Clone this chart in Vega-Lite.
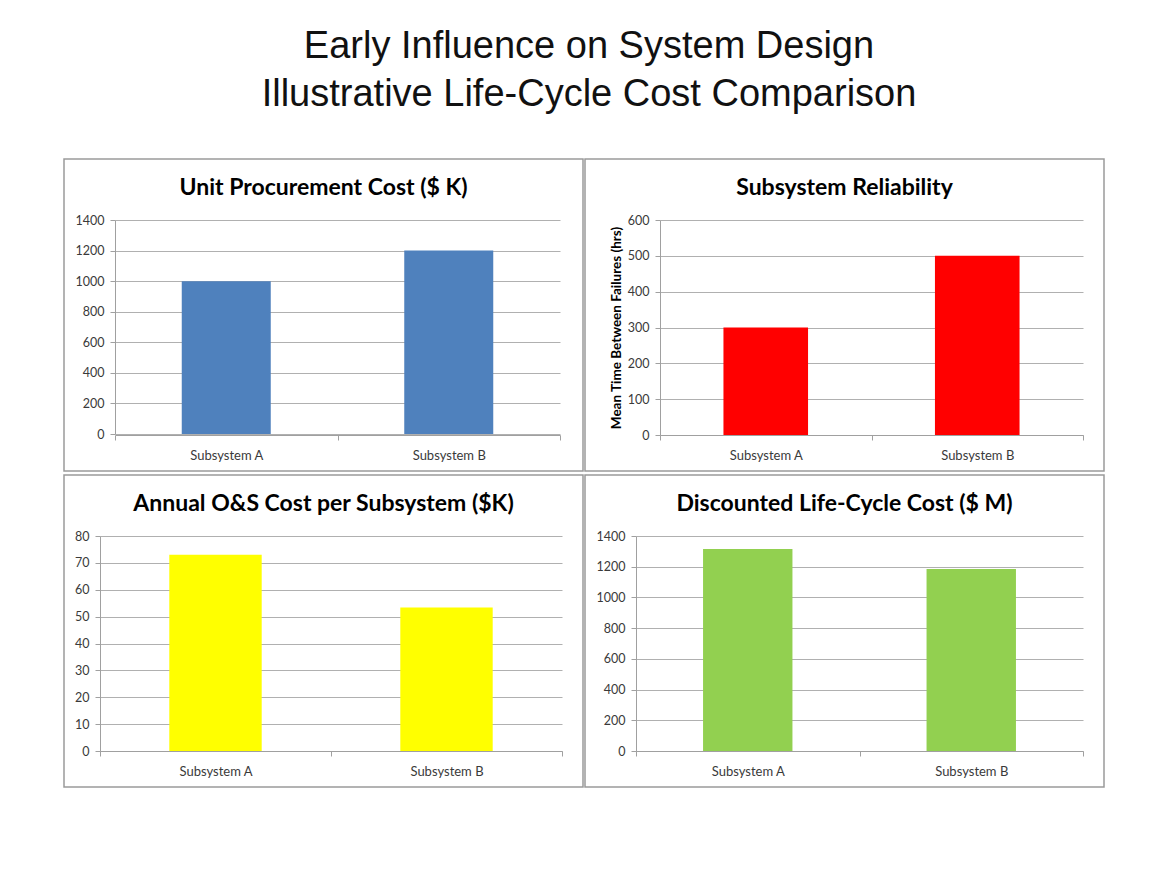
{
  "$schema": "https://vega.github.io/schema/vega-lite/v6.json",
  "background": "white",
  "padding": {"left": 63, "top": 28, "right": 0, "bottom": 0},
  "title": {
    "text": ["Early Influence on System Design", "Illustrative Life-Cycle Cost Comparison"],
    "font": "Liberation Sans",
    "fontSize": 38,
    "fontWeight": "normal",
    "lineHeight": 48,
    "anchor": "middle",
    "frame": "bounds",
    "offset": 44,
    "dx": 5,
    "color": "#111111"
  },
  "spacing": 2,
  "vconcat": [
    {
      "spacing": 0,
      "hconcat": [
        {
          "width": 519,
          "height": 312,
          "title": {"text": "Unit Procurement Cost ($ K)", "offset": -41},
          "data": {"values": [
            {"subsystem": "Subsystem A", "value": 1000},
            {"subsystem": "Subsystem B", "value": 1200}
          ]},
          "mark": {"type": "bar", "width": {"band": 0.4}, "color": "#4F81BD"},
          "encoding": {
            "x": {"field": "subsystem", "type": "nominal", "sort": null,
              "scale": {"range": [51, 496], "paddingInner": 0, "paddingOuter": 0},
              "axis": {"offset": -36, "title": null}},
            "y": {"field": "value", "type": "quantitative",
              "scale": {"domain": [0, 1400], "range": [275, 61], "nice": false},
              "axis": {"offset": -51, "title": null, "values": [0, 200, 400, 600, 800, 1000, 1200, 1400]}}
          }
        },
        {
          "width": 519,
          "height": 312,
          "title": {"text": "Subsystem Reliability", "offset": -41},
          "data": {"values": [
            {"subsystem": "Subsystem A", "value": 300},
            {"subsystem": "Subsystem B", "value": 500}
          ]},
          "mark": {"type": "bar", "width": {"band": 0.4}, "color": "#FF0000"},
          "encoding": {
            "x": {"field": "subsystem", "type": "nominal", "sort": null,
              "scale": {"range": [75, 498], "paddingInner": 0, "paddingOuter": 0},
              "axis": {"offset": -36, "title": null}},
            "y": {"field": "value", "type": "quantitative",
              "scale": {"domain": [0, 600], "range": [276, 61], "nice": false},
              "axis": {"offset": -75, "title": "Mean Time Between Failures (hrs)", "titleFontSize": 13.5, "titlePadding": 4, "values": [0, 100, 200, 300, 400, 500, 600]}}
          }
        }
      ]
    },
    {
      "spacing": 0,
      "hconcat": [
        {
          "width": 519,
          "height": 312,
          "title": {"text": "Annual O&S Cost per Subsystem ($K)", "offset": -41},
          "data": {"values": [
            {"subsystem": "Subsystem A", "value": 73},
            {"subsystem": "Subsystem B", "value": 53.4}
          ]},
          "mark": {"type": "bar", "width": {"band": 0.4}, "color": "#FFFF00"},
          "encoding": {
            "x": {"field": "subsystem", "type": "nominal", "sort": null,
              "scale": {"range": [36, 498], "paddingInner": 0, "paddingOuter": 0},
              "axis": {"offset": -36, "title": null}},
            "y": {"field": "value", "type": "quantitative",
              "scale": {"domain": [0, 80], "range": [276, 61], "nice": false},
              "axis": {"offset": -36, "title": null, "values": [0, 10, 20, 30, 40, 50, 60, 70, 80]}}
          }
        },
        {
          "width": 519,
          "height": 312,
          "title": {"text": "Discounted Life-Cycle Cost ($ M)", "offset": -41},
          "data": {"values": [
            {"subsystem": "Subsystem A", "value": 1315},
            {"subsystem": "Subsystem B", "value": 1185}
          ]},
          "mark": {"type": "bar", "width": {"band": 0.4}, "color": "#92D050"},
          "encoding": {
            "x": {"field": "subsystem", "type": "nominal", "sort": null,
              "scale": {"range": [51, 498], "paddingInner": 0, "paddingOuter": 0},
              "axis": {"offset": -36, "title": null}},
            "y": {"field": "value", "type": "quantitative",
              "scale": {"domain": [0, 1400], "range": [276, 61], "nice": false},
              "axis": {"offset": -51, "title": null, "values": [0, 200, 400, 600, 800, 1000, 1200, 1400]}}
          }
        }
      ]
    }
  ],
  "config": {
    "font": "Lato",
    "view": {"stroke": "#9a9a9a", "strokeWidth": 1.5},
    "title": {"font": "Lato", "fontSize": 23, "fontWeight": "bold", "color": "#000000", "anchor": "middle", "frame": "group"},
    "axis": {
      "domainColor": "#a0a0a0",
      "tickColor": "#a0a0a0",
      "gridColor": "#b0b0b0",
      "labelFont": "Lato",
      "labelFontSize": 12.5,
      "labelColor": "#3a3a3a",
      "titleFont": "Lato",
      "titleFontSize": 11.5,
      "titleFontWeight": "bold",
      "titleColor": "#000000",
      "titlePadding": 6
    },
    "axisX": {"grid": false, "tickBand": "extent", "tickSize": 5, "labelPadding": 9, "labelAngle": 0, "labelFontSize": 13},
    "axisY": {"grid": true, "tickSize": 5, "labelPadding": 6, "format": "d"}
  }
}
